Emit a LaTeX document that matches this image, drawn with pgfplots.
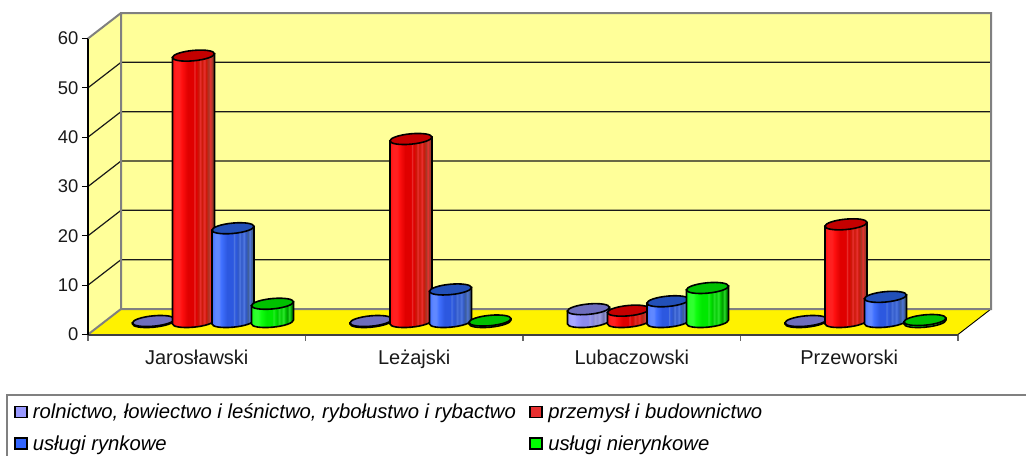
\documentclass[border=0pt]{standalone}
\usepackage{pgfplots}
\pgfplotsset{compat=1.18}
\usepackage{fontspec}
\setmainfont{Liberation Sans}
\def\PX{0.75pt}
% horizontal shading of a cylinder: visible range is 25bp..75bp
\newcommand\declcyl[7]{%
 \definecolor{#1a}{HTML}{#2}\definecolor{#1b}{HTML}{#3}\definecolor{#1c}{HTML}{#4}%
 \definecolor{#1d}{HTML}{#5}\definecolor{#1e}{HTML}{#6}\definecolor{#1f}{HTML}{#7}%
 \pgfdeclarehorizontalshading{#1cyl}{100bp}{%
  color(0bp)=(#1a);color(25bp)=(#1a);color(29bp)=(#1b);color(33bp)=(#1b);color(36bp)=(#1a);
  color(43bp)=(#1c);color(50bp)=(#1c);color(51bp)=(#1d);color(53bp)=(#1c);color(56bp)=(#1e);
  color(58bp)=(#1d);color(60bp)=(#1e);color(63bp)=(#1d);color(65bp)=(#1e);color(68bp)=(#1f);
  color(70bp)=(#1d);color(72bp)=(#1f);color(75bp)=(#1f);color(100bp)=(#1f)}}
\declcyl{li}{9999FF}{A8A8FF}{8C8CEC}{A0A0E0}{8888D0}{7070A8}
\declcyl{re}{FF1010}{FF2020}{E00000}{E83030}{CC1808}{A83828}
\declcyl{bl}{4070FF}{6088FF}{2C58E0}{5078E0}{3058C8}{406098}
\declcyl{gr}{10FF10}{30FF30}{00E800}{30E830}{00C800}{009800}
\definecolor{litop}{HTML}{6E6EBC}
\definecolor{retop}{HTML}{C40000}
\definecolor{bltop}{HTML}{2250B8}
\definecolor{grtop}{HTML}{00C000}
\definecolor{wall}{HTML}{FFFF99}
\definecolor{legli}{HTML}{9999FF}
\definecolor{legbl}{HTML}{3366FF}
\pgfdeclareplotmark{nothing}{}
% tilted ellipse: half axes rx, ry, shear k=0.09
\pgfmathsetmacro\rx{21*0.75}
\pgfmathsetmacro\ry{5.2*0.75}
\pgfmathsetmacro\ee{0.09*\rx}
\pgfmathsetmacro\aa{0.5523*\rx}
\pgfmathsetmacro\bb{0.5523*\ry}
\pgfmathsetmacro\ff{0.09*\aa}
\def\dy{9.375}
\newcommand\cyl[2]{%
 \pgfmathsetmacro\hh{\val*4.933*0.75}%
 \pgfmathsetmacro\dx{#2*0.75}%
 \begin{scope}[x=1pt,y=1pt,line width=1.6*\PX]
  \shadedraw[draw=black,shading=#1cyl,shading angle=0]
    (\dx-\rx,\dy-\ee) -- (\dx-\rx,\dy-\ee-\hh)
    .. controls (\dx-\rx,\dy-\ee-\bb-\hh) and (\dx-\aa,\dy-\ry-\ff-\hh) .. (\dx,\dy-\ry-\hh)
    .. controls (\dx+\aa,\dy-\ry+\ff-\hh) and (\dx+\rx,\dy+\ee-\bb-\hh) .. (\dx+\rx,\dy+\ee-\hh)
    -- (\dx+\rx,\dy+\ee) -- cycle;
  \filldraw[draw=black,fill=#1top]
    (\dx-\rx,\dy-\ee)
    .. controls (\dx-\rx,\dy-\ee+\bb) and (\dx-\aa,\dy+\ry-\ff) .. (\dx,\dy+\ry)
    .. controls (\dx+\aa,\dy+\ry+\ff) and (\dx+\rx,\dy+\ee+\bb) .. (\dx+\rx,\dy+\ee)
    .. controls (\dx+\rx,\dy+\ee-\bb) and (\dx+\aa,\dy-\ry+\ff) .. (\dx,\dy-\ry)
    .. controls (\dx-\aa,\dy-\ry-\ff) and (\dx-\rx,\dy-\ee-\bb) .. (\dx-\rx,\dy-\ee) -- cycle;
 \end{scope}}
\pgfplotsset{
 series/.style n args={3}{
  only marks, scatter, scatter src=y, mark=nothing,
  visualization depends on={rawy \as \val},
  scatter/@pre marker code/.code={\cyl{#1}{#2}},
  scatter/@post marker code/.code={},
  legend image code/.code={\draw[black,line width=1.6*\PX,fill=#3]
     (0,-5.5*\PX) rectangle (12*\PX,5.5*\PX);
     \draw[draw=none,fill=none,opacity=0] (0,0) rectangle (14*\PX,0.1*\PX);}},
}
\pgfplotstableread{
x    v
0.5  0.2
1.5  0.2
2.5  2.6
3.5  0.2
}\seriesA
\pgfplotstableread{
x    v
0.5  54
1.5  37.1
2.5  2.3
3.5  19.8
}\seriesB
\pgfplotstableread{
x    v
0.5  19
1.5  6.6
2.5  4.2
3.5  5.1
}\seriesC
\pgfplotstableread{
x    v
0.5  3.7
1.5  0.3
2.5  6.9
3.5  0.4
}\seriesD
\begin{document}
\begin{tikzpicture}
\path[use as bounding box,clip] (0,0) rectangle (769.5pt,341.25pt);
\begin{axis}[
 at={(88*\PX,120.5*\PX)},anchor=origin,
 scale only axis,width=870*\PX,height=296*\PX,
 xmin=0,xmax=4,ymin=0,ymax=60,clip=false,
 axis on top,
 axis x line*=bottom,axis y line*=left,
 x axis line style={draw=black!75,line width=2*\PX,-},
 y axis line style={draw=black,line width=1.4*\PX,-},
 xtick={0.5,1.5,2.5,3.5},
 xticklabels={Jarosławski,Leżajski,Lubaczowski,Przeworski},
 minor xtick={0,1,2,3,4},
 major x tick style={draw=none},
 minor tick length=6*\PX,
 minor x tick style={draw=black!60,line width=1.2*\PX},
 ytick={0,10,...,60},
 y tick style={draw=black,line width=1.2*\PX},
 major tick length=6*\PX,
 tick align=outside,
 /pgf/number format/assume math mode=true,
 yticklabel style={font=\fontsize{13.8pt}{16pt}\selectfont,text=black!90,xshift=1*\PX},
 xticklabel style={font=\fontsize{15pt}{17pt}\selectfont,text=black!90,yshift=-5*\PX},
 legend columns=2,
 legend cell align=left,
 legend style={at={(-0.0851,-0.2281)},anchor=north west,draw=none,fill=none,
   inner sep=0pt,outer sep=0pt,
   font=\fontsize{15.2pt}{17pt}\selectfont\itshape,
   row sep=12*\PX,
   nodes={inner xsep=4*\PX,inner ysep=1.5*\PX},
   /tikz/every even column/.append style={column sep=9.5*\PX}},
]
% walls and floor
\fill[wall] (axis cs:0,0) -- ++(33*\PX,25.5*\PX) -- ++(0,296*\PX) -- (axis cs:0,60) -- cycle;
\fill[wall] (axis cs:0,0) ++(33*\PX,25.5*\PX) rectangle ++(870*\PX,296*\PX);
\fill[yellow] (axis cs:0,0) -- ++(33*\PX,25.5*\PX) -- ++(870*\PX,0) -- (axis cs:4,0) -- cycle;
% grid lines
\pgfplotsinvokeforeach{10,20,30,40,50}{
 \draw[black!90,line width=1.2*\PX] (axis cs:0,#1) -- ++(33*\PX,25.5*\PX) -- ++(870*\PX,0);
}
\draw[black,line width=0.9*\PX] (axis cs:4,0) -- ++(33*\PX,25.5*\PX);
\draw[black!50,line width=2*\PX]
  (axis cs:0,0) -- ++(33*\PX,25.5*\PX) -- ++(870*\PX,0) -- ++(0,296*\PX) -- ++(-870*\PX,0) -- ++(0,-296*\PX) ++(0,296*\PX) -- (axis cs:0,60);
% series
\addplot[series={li}{-43.3}{legli}] table[x=x,y=v] {\seriesA};
\addlegendentry{rolnictwo, łowiectwo i leśnictwo, rybołustwo i rybactwo}
\addplot[series={re}{-3.3}{red}] table[x=x,y=v] {\seriesB};
\addlegendentry{przemysł i budownictwo}
\addplot[series={bl}{36.2}{legbl}] table[x=x,y=v] {\seriesC};
\addlegendentry{usługi rynkowe}
\addplot[series={gr}{75.7}{green}] table[x=x,y=v] {\seriesD};
\addlegendentry{usługi nierynkowe}
\end{axis}
\draw[black!50,line width=1.5*\PX] (7*\PX,-20*\PX) -- (7*\PX,60*\PX) -- (1040*\PX,60*\PX);
\end{tikzpicture}
\end{document}
